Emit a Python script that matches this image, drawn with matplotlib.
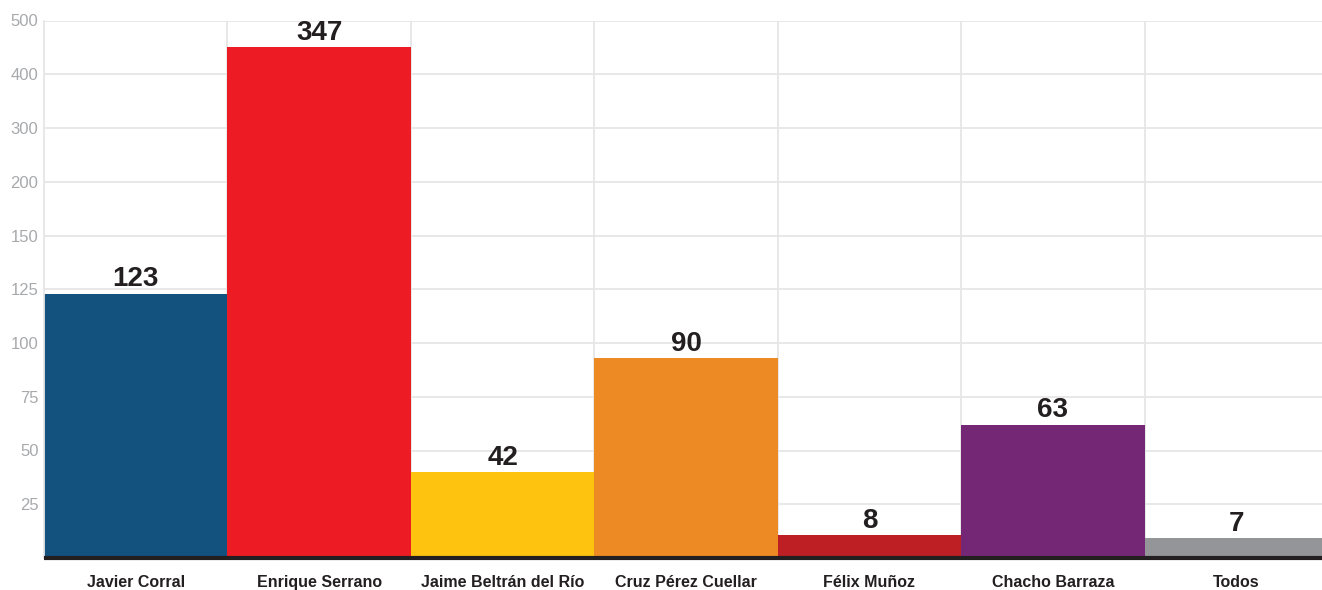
import matplotlib.pyplot as plt
import numpy as np

plt.rcParams['font.family'] = ['Liberation Sans', 'DejaVu Sans']

# candidates and the numbers printed above each bar
names = ["Javier Corral", "Enrique Serrano", "Jaime Beltrán del Río",
         "Cruz Pérez Cuellar", "Félix Muñoz", "Chacho Barraza", "Todos"]
labels = [123, 347, 42, 90, 8, 63, 7]
# bar tops as they sit on the (uneven) axis of the original
heights = [123, 450, 40, 93, 10.5, 62, 9.3]
colors = ["#13517f", "#ed1c24", "#fdc30f", "#ee8a24", "#bd1f25", "#742775", "#939598"]

# the y axis has evenly spaced ticks but uneven steps
yticks = [0, 25, 50, 75, 100, 125, 150, 200, 300, 400, 500]
ypos = np.arange(len(yticks))

def fwd(v):
    return np.interp(v, yticks, ypos)

def inv(p):
    return np.interp(p, ypos, yticks)

fig = plt.figure(figsize=(13.22, 5.9), dpi=100)
ax = fig.add_axes([44/1322, 32/590, 1284/1322, 537.5/590])
ax.set_yscale('function', functions=(fwd, inv))

x = np.arange(len(names))
ax.bar(x, heights, width=1.0, color=colors, zorder=2)
for xi, h, lab in zip(x, heights, labels):
    ax.annotate(str(lab), (xi, h), xytext=(0, 1), textcoords='offset points',
                ha='center', va='bottom', fontsize=20, fontweight='bold',
                color='#231f20', zorder=3)

ax.set_xlim(-0.5, len(names) - 0.5)
ax.set_ylim(0, 500)
ax.set_yticks(yticks[1:])
ax.set_yticklabels([str(t) for t in yticks[1:]])
ax.set_xticks(x)
ax.set_xticklabels(names, fontsize=11.5, fontweight='bold', color='#231f20')
ax.set_xticks(x[:-1] + 0.5, minor=True)

ax.tick_params(axis='y', length=0, pad=4, labelsize=12, labelcolor='#a7a9ac')
ax.tick_params(axis='x', which='both', length=0, pad=12)
ax.grid(axis='y', color='#e6e6e6', linewidth=1.3, zorder=0)
ax.grid(axis='x', which='minor', color='#e6e6e6', linewidth=1.3, zorder=0)

for s in ['top', 'right']:
    ax.spines[s].set_visible(False)
ax.spines['left'].set_color('#e6e6e6')
ax.spines['left'].set_linewidth(1.3)
ax.spines['bottom'].set_color('#231f20')
ax.spines['bottom'].set_linewidth(3)
ax.spines['bottom'].set_capstyle('butt')
ax.spines['bottom'].set_zorder(4)

fig.savefig('out.png', dpi=100)
